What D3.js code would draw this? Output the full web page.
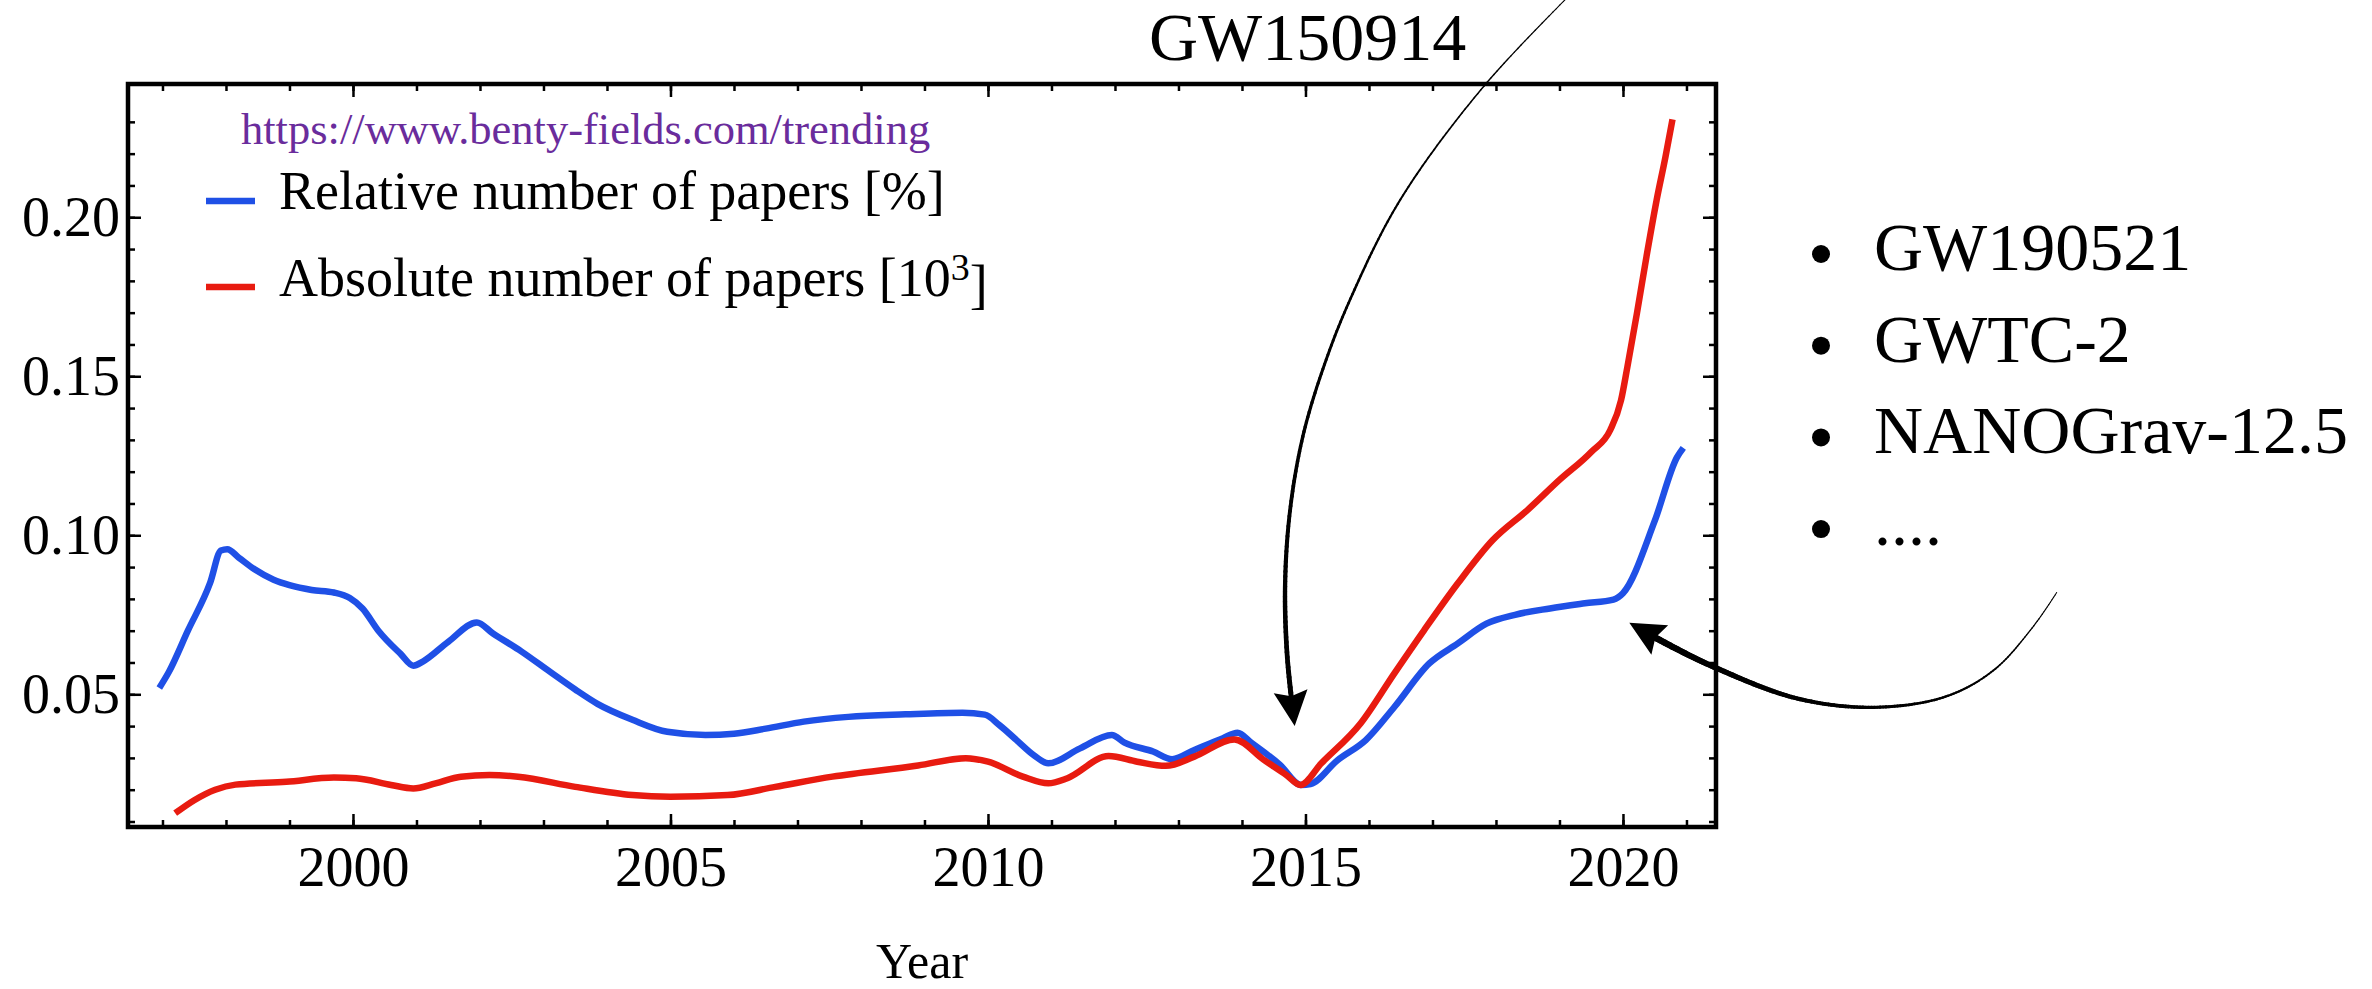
<!DOCTYPE html>
<html>
<head>
<meta charset="utf-8">
<script src="https://cdn.jsdelivr.net/npm/d3@7"></script>
<style>
  body { margin: 0; background: #fff; }
  svg { display: block; font-family: "Liberation Serif", "DejaVu Serif", serif; }
</style>
</head>
<body>
<svg id="chart" width="2372" height="989"></svg>
<script>
// values: decimal year -> value
var relYears = [1996.95, 1997.10, 1997.40, 1997.75, 1997.92, 1998.02, 1998.20, 1998.45, 1998.75, 1999.00,
  1999.35, 1999.70, 1999.95, 2000.15, 2000.40, 2000.75, 2000.95, 2001.10, 2001.50, 2001.95,
  2002.20, 2002.65, 2003.10, 2003.50, 2003.85, 2004.40, 2004.95, 2005.55, 2006.00, 2006.50,
  2007.10, 2007.80, 2008.70, 2009.60, 2009.95, 2010.18, 2010.45, 2010.72, 2010.95, 2011.45,
  2011.95, 2012.15, 2012.60, 2012.90, 2013.25, 2013.70, 2013.93, 2014.15, 2014.60, 2014.93,
  2015.08, 2015.50, 2015.95, 2016.40, 2016.95, 2017.40, 2017.85, 2018.30, 2018.85, 2019.40,
  2019.85, 2020.00, 2020.50, 2020.85, 2020.95];
var relValues = [0.0520, 0.0570, 0.0700, 0.0850, 0.0952, 0.0956, 0.0930, 0.0893, 0.0860, 0.0843,
  0.0828, 0.0820, 0.0803, 0.0770, 0.0700, 0.0627, 0.0590, 0.0603, 0.0665, 0.0726,
  0.0692, 0.0635, 0.0571, 0.0515, 0.0470, 0.0420, 0.0382, 0.0372, 0.0376, 0.0392,
  0.0414, 0.0429, 0.0437, 0.0442, 0.0436, 0.0403, 0.0356, 0.0309, 0.0283, 0.0330,
  0.0372, 0.0348, 0.0320, 0.0296, 0.0325, 0.0362, 0.0379, 0.0347, 0.0278, 0.0215,
  0.0218, 0.0292, 0.0356, 0.0460, 0.0597, 0.0660, 0.0722, 0.0750, 0.0770, 0.0786,
  0.0798, 0.0818, 0.1045, 0.1245, 0.1275];

var absYears = [1997.20, 1997.50, 1997.83, 1998.15, 1998.95, 1999.70, 2000.05, 2000.60, 2000.95, 2001.30,
  2001.70, 2002.15, 2002.60, 2003.50, 2004.40, 2005.00, 2005.90, 2006.65, 2007.55, 2008.90,
  2009.65, 2010.00, 2010.55, 2010.95, 2011.25, 2011.90, 2012.35, 2012.80, 2013.25, 2013.88,
  2014.35, 2014.70, 2014.92, 2015.25, 2015.87, 2016.40, 2016.87, 2017.40, 2017.95, 2018.50,
  2019.00, 2019.50, 2019.80, 2019.97, 2020.07, 2020.22, 2020.37, 2020.53, 2020.67, 2020.78];
var absValues = [0.0126, 0.0167, 0.0200, 0.0216, 0.0225, 0.0238, 0.0236, 0.0215, 0.0204, 0.0220,
  0.0241, 0.0246, 0.0241, 0.0209, 0.0183, 0.0178, 0.0183, 0.0209, 0.0241, 0.0276,
  0.0299, 0.0288, 0.0241, 0.0220, 0.0236, 0.0306, 0.0288, 0.0275, 0.0304, 0.0358,
  0.0293, 0.0246, 0.0215, 0.0283, 0.0409, 0.0566, 0.0702, 0.0849, 0.0985, 0.1080,
  0.1174, 0.1262, 0.1331, 0.1425, 0.1530, 0.1698, 0.1876, 0.2054, 0.2191, 0.2308];

var xMajorTicks = [2000, 2005, 2010, 2015, 2020];
var yMajorTicks = [0.05, 0.10, 0.15, 0.20];
var xMinorTicks = d3.range(1997, 2022, 1);
var yMinorTicks = d3.range(1, 24).map(function (i) { return i / 100; });

var sourceUrl = "https://www.benty-fields.com/trending";
var relLabel = "Relative number of papers [%]";
var absLabel = "Absolute number of papers [10";
var xTitle = "Year";
var eventLabel = "GW150914";
var laterEvents = ["GW190521", "GWTC-2", "NANOGrav-12.5", "...."];

// annotation arrows, in data units (year, value), tail first, tip last
var arrowEvent = [[2019.40, 0.2746], [2017.83, 0.2417], [2016.49, 0.2054],
  [2015.70, 0.1740], [2015.28, 0.1526], [2014.96, 0.1312], [2014.76, 0.1083],
  [2014.68, 0.0853], [2014.71, 0.0627], [2014.83, 0.0400]];
var arrowLater = [[2026.83, 0.0820], [2026.46, 0.0713], [2025.84, 0.0576], [2025.07, 0.0492],
  [2023.94, 0.0459], [2022.74, 0.0487], [2021.42, 0.0587], [2020.53, 0.0676], [2020.10, 0.0725]];

var blue = "#1f50e6";
var red = "#e81b10";

var svg = d3.select("#chart");
svg.append("rect").attr("width", 2372).attr("height", 989).attr("fill", "#fff");

var plotLeft = 128, plotRight = 1716, plotTop = 84, plotBottom = 827;
var x = d3.scaleLinear([1996.457, 2021.465], [plotLeft, plotRight]);
var y = d3.scaleLinear([0.00827, 0.2419], [plotBottom, plotTop]);

// ---- ticks on all four sides, pointing inward ----
function styleAxis(g) {
  g.select(".domain").remove();
  g.selectAll(".tick line").attr("stroke", "#000").attr("stroke-width", 2.5);
  g.selectAll(".tick text").attr("fill", "#000").style("font-size", "56px")
    .style("font-family", "'Liberation Serif', serif");
}

svg.append("g").attr("transform", "translate(0," + plotBottom + ")")
  .call(d3.axisBottom(x).tickValues(xMinorTicks).tickSize(-7).tickFormat(""))
  .call(styleAxis);
svg.append("g").attr("transform", "translate(0," + plotBottom + ")")
  .call(d3.axisBottom(x).tickValues(xMajorTicks).tickSize(-13).tickPadding(19).tickFormat(d3.format("d")))
  .call(styleAxis);
svg.append("g").attr("transform", "translate(0," + plotTop + ")")
  .call(d3.axisTop(x).tickValues(xMinorTicks).tickSize(-7).tickFormat(""))
  .call(styleAxis);
svg.append("g").attr("transform", "translate(0," + plotTop + ")")
  .call(d3.axisTop(x).tickValues(xMajorTicks).tickSize(-13).tickFormat(""))
  .call(styleAxis);

svg.append("g").attr("transform", "translate(" + plotLeft + ",0)")
  .call(d3.axisLeft(y).tickValues(yMinorTicks).tickSize(-7).tickFormat(""))
  .call(styleAxis);
svg.append("g").attr("transform", "translate(" + plotLeft + ",0)")
  .call(d3.axisLeft(y).tickValues(yMajorTicks).tickSize(-13).tickPadding(8).tickFormat(d3.format(".2f")))
  .call(styleAxis);
svg.append("g").attr("transform", "translate(" + plotRight + ",0)")
  .call(d3.axisRight(y).tickValues(yMinorTicks).tickSize(-7).tickFormat(""))
  .call(styleAxis);
svg.append("g").attr("transform", "translate(" + plotRight + ",0)")
  .call(d3.axisRight(y).tickValues(yMajorTicks).tickSize(-13).tickFormat(""))
  .call(styleAxis);

// frame
svg.append("rect")
  .attr("x", plotLeft).attr("y", plotTop)
  .attr("width", plotRight - plotLeft).attr("height", plotBottom - plotTop)
  .attr("fill", "none").attr("stroke", "#000").attr("stroke-width", 4.5);

// ---- the two series ----
var line = d3.line()
  .x(function (d) { return x(d[0]); })
  .y(function (d) { return y(d[1]); })
  .curve(d3.curveMonotoneX);

var relData = relYears.map(function (t, i) { return [t, relValues[i]]; });
var absData = absYears.map(function (t, i) { return [t, absValues[i]]; });

svg.append("path").datum(relData).attr("d", line)
  .attr("fill", "none").attr("stroke", blue).attr("stroke-width", 6.5)
  .attr("stroke-linejoin", "round");
svg.append("path").datum(absData).attr("d", line)
  .attr("fill", "none").attr("stroke", red).attr("stroke-width", 6.5)
  .attr("stroke-linejoin", "round");

// ---- legend ----
svg.append("text").attr("x", 241).attr("y", 144)
  .attr("fill", "#6a2c9c").style("font-size", "44.5px").text(sourceUrl);

svg.append("line").attr("x1", 206).attr("x2", 255).attr("y1", 201).attr("y2", 201)
  .attr("stroke", blue).attr("stroke-width", 6.5);
svg.append("text").attr("x", 279).attr("y", 209).style("font-size", "54px").text(relLabel);

svg.append("line").attr("x1", 206).attr("x2", 255).attr("y1", 287).attr("y2", 287)
  .attr("stroke", red).attr("stroke-width", 6.5);
var absText = svg.append("text").attr("x", 279).attr("y", 296).style("font-size", "54px");
absText.append("tspan").text(absLabel);
absText.append("tspan").attr("dy", "-0.42em").style("font-size", "38px").text("3");
absText.append("tspan").attr("dy", "0.42em").text("]");

// axis title
svg.append("text").attr("x", (plotLeft + plotRight) / 2).attr("y", 978)
  .attr("text-anchor", "middle").style("font-size", "50px").text(xTitle);

// ---- annotations ----
svg.append("text").attr("x", 1149).attr("y", 60).style("font-size", "68px").text(eventLabel);

var list = svg.append("g");
laterEvents.forEach(function (s, i) {
  var base = 270 + i * 91.7;
  list.append("circle").attr("cx", 1821).attr("cy", base - 16).attr("r", 9).attr("fill", "#000");
  list.append("text").attr("x", 1874).attr("y", base).style("font-size", "68px").text(s);
});

function taperedArrow(points, w0, w1) {
  var path = d3.line()
    .x(function (d) { return x(d[0]); })
    .y(function (d) { return y(d[1]); })
    .curve(d3.curveCatmullRom.alpha(0.5));
  var tmp = svg.append("path").attr("d", path(points)).attr("fill", "none");
  var node = tmp.node();
  var L = node.getTotalLength();
  var headLen = 35, headHalf = 17;
  var shaft = L - headLen + 6;
  var n = 160;
  var g = svg.append("g").attr("stroke", "#000").attr("stroke-linecap", "round");
  var prev = node.getPointAtLength(0);
  for (var i = 1; i <= n; i++) {
    var p = node.getPointAtLength(shaft * i / n);
    g.append("line")
      .attr("x1", prev.x).attr("y1", prev.y).attr("x2", p.x).attr("y2", p.y)
      .attr("stroke-width", w0 + (w1 - w0) * Math.pow(i / n, 1.3));
    prev = p;
  }
  var tip = node.getPointAtLength(L);
  var back = node.getPointAtLength(L - headLen);
  var dx = tip.x - back.x, dy = tip.y - back.y, d = Math.hypot(dx, dy);
  var ux = dx / d, uy = dy / d;
  var bx = tip.x - ux * headLen, by = tip.y - uy * headLen;
  var pts = [
    [tip.x, tip.y],
    [bx - uy * headHalf, by + ux * headHalf],
    [bx + ux * 5, by + uy * 5],
    [bx + uy * headHalf, by - ux * headHalf]
  ];
  svg.append("polygon").attr("points", pts.map(function (q) { return q.join(","); }).join(" "))
    .attr("fill", "#000");
  tmp.remove();
}

taperedArrow(arrowEvent, 1, 5);
taperedArrow(arrowLater, 1, 6.5);
</script>
</body>
</html>
